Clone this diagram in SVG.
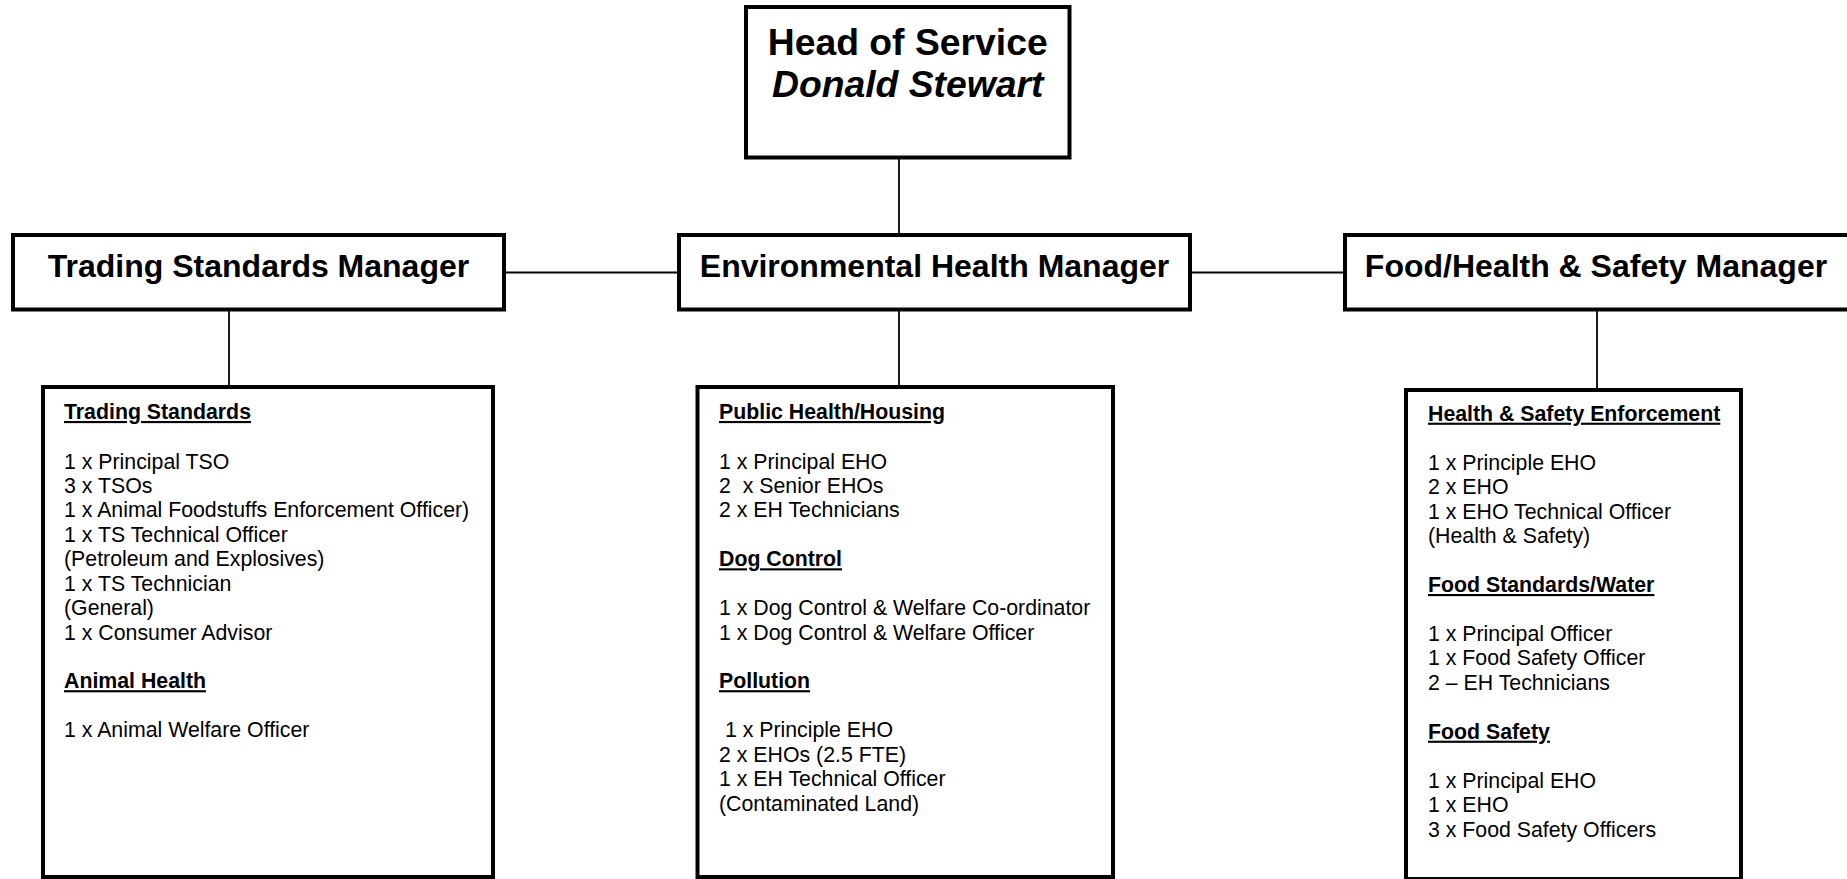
<svg xmlns="http://www.w3.org/2000/svg" width="1847" height="879" viewBox="0 0 1847 879">
<style>
.box{fill:#fff;stroke:#000;stroke-width:4}
.con{stroke:#000;stroke-width:1.8;fill:none}
.head{font-family:"Liberation Sans",Arial,sans-serif;font-size:37.3px;font-weight:bold;text-anchor:middle;fill:#000}
.mgr{font-family:"Liberation Sans",Arial,sans-serif;font-size:32px;font-weight:bold;text-anchor:middle;fill:#000}
.sub{font-family:"Liberation Sans",Arial,sans-serif;font-size:21.3px;fill:#000}
.hd{font-weight:bold;text-decoration:underline}
</style>
<rect width="1847" height="879" fill="#fff"/>
<g id="connectors">
<line class="con" x1="899" y1="158" x2="899" y2="234"/>
<line class="con" x1="504" y1="272.5" x2="679" y2="272.5"/>
<line class="con" x1="1190" y1="272.5" x2="1345" y2="272.5"/>
<line class="con" x1="229" y1="311" x2="229" y2="387"/>
<line class="con" x1="899" y1="311" x2="899" y2="387"/>
<line class="con" x1="1597" y1="311" x2="1597" y2="390"/>
</g>
<g id="head">
<rect class="box" x="746" y="7" width="323.5" height="150.5"/>
<text class="head" x="907.7" y="55">Head of Service</text>
<text class="head" x="907.7" y="96.7" font-style="italic">Donald Stewart</text>
</g>
<g id="ts-manager">
<rect class="box" x="13" y="235" width="491" height="74.5"/>
<text class="mgr" x="258.5" y="277">Trading Standards Manager</text>
</g>
<g id="eh-manager">
<rect class="box" x="679" y="235" width="511" height="74.5"/>
<text class="mgr" x="934.5" y="277">Environmental Health Manager</text>
</g>
<g id="food-manager">
<rect class="box" x="1345" y="235" width="510" height="74.5"/>
<text class="mgr" x="1596" y="277">Food/Health &amp; Safety Manager</text>
</g>
<g id="ts-team">
<rect class="box" x="43" y="387" width="450" height="490"/>
<text class="sub hd" x="64" y="419">Trading Standards</text>
<text class="sub" x="64" y="468.5">1 x Principal TSO</text>
<text class="sub" x="64" y="493">3 x TSOs</text>
<text class="sub" x="64" y="517.4">1 x Animal Foodstuffs Enforcement Officer)</text>
<text class="sub" x="64" y="541.9">1 x TS Technical Officer</text>
<text class="sub" x="64" y="566.3">(Petroleum and Explosives)</text>
<text class="sub" x="64" y="590.8">1 x TS Technician</text>
<text class="sub" x="64" y="615.2">(General)</text>
<text class="sub" x="64" y="639.7">1 x Consumer Advisor</text>
<text class="sub hd" x="64" y="688.2">Animal Health</text>
<text class="sub" x="64" y="737">1 x Animal Welfare Officer</text>
</g>
<g id="eh-team">
<rect class="box" x="697.5" y="387" width="415.5" height="490"/>
<text class="sub hd" x="719" y="419">Public Health/Housing</text>
<text class="sub" x="719" y="468.5">1 x Principal EHO</text>
<text class="sub" x="719" y="493" xml:space="preserve">2  x Senior EHOs</text>
<text class="sub" x="719" y="517.4">2 x EH Technicians</text>
<text class="sub hd" x="719" y="566.3">Dog Control</text>
<text class="sub" x="719" y="615.2">1 x Dog Control &amp; Welfare Co-ordinator</text>
<text class="sub" x="719" y="639.7">1 x Dog Control &amp; Welfare Officer</text>
<text class="sub hd" x="719" y="688.2">Pollution</text>
<text class="sub" x="719" y="737" xml:space="preserve"> 1 x Principle EHO</text>
<text class="sub" x="719" y="761.5">2 x EHOs (2.5 FTE)</text>
<text class="sub" x="719" y="786">1 x EH Technical Officer</text>
<text class="sub" x="719" y="810.5">(Contaminated Land)</text>
</g>
<g id="food-team">
<rect class="box" x="1406" y="390" width="335" height="489"/>
<text class="sub hd" x="1428" y="420.7">Health &amp; Safety Enforcement</text>
<text class="sub" x="1428" y="469.8">1 x Principle EHO</text>
<text class="sub" x="1428" y="494.2">2 x EHO</text>
<text class="sub" x="1428" y="518.7">1 x EHO Technical Officer</text>
<text class="sub" x="1428" y="543.1">(Health &amp; Safety)</text>
<text class="sub hd" x="1428" y="592">Food Standards/Water</text>
<text class="sub" x="1428" y="640.9">1 x Principal Officer</text>
<text class="sub" x="1428" y="665.4">1 x Food Safety Officer</text>
<text class="sub" x="1428" y="689.8">2 – EH Technicians</text>
<text class="sub hd" x="1428" y="738.7">Food Safety</text>
<text class="sub" x="1428" y="787.6">1 x Principal EHO</text>
<text class="sub" x="1428" y="812.1">1 x EHO</text>
<text class="sub" x="1428" y="836.5">3 x Food Safety Officers</text>
</g>
</svg>
